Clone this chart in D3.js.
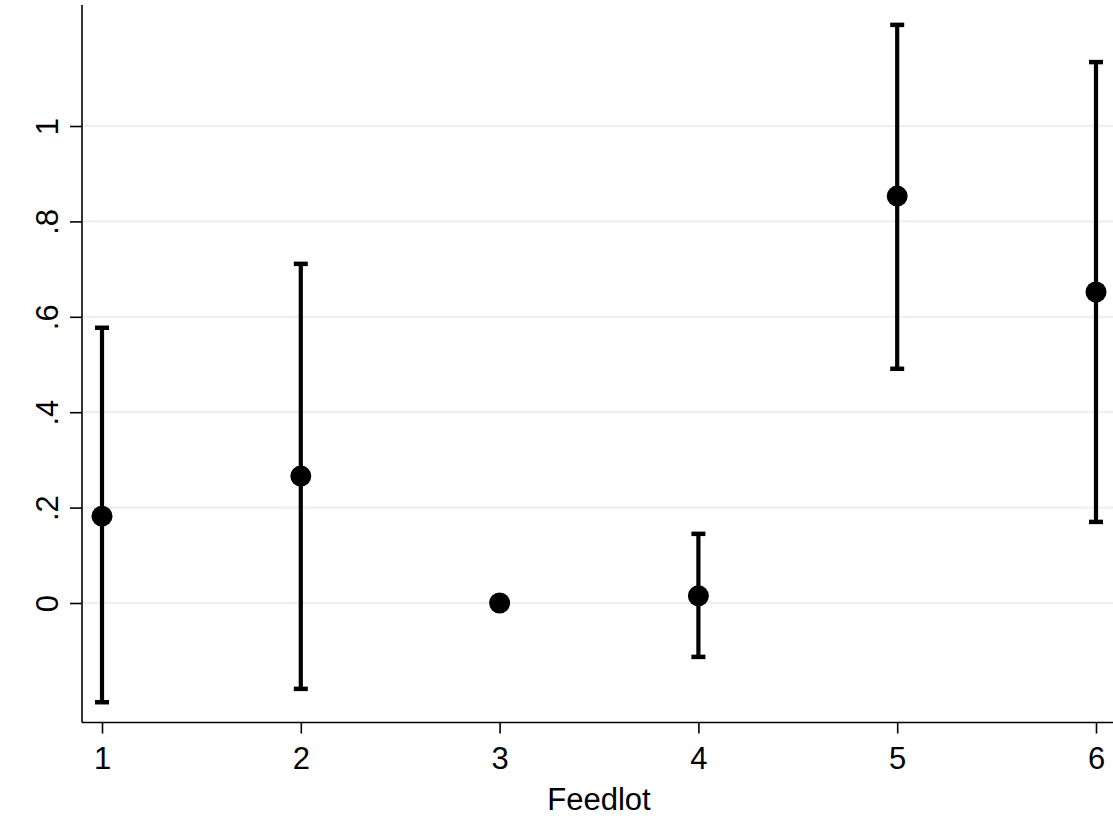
<!DOCTYPE html>
<html><head><meta charset="utf-8">
<script src="https://cdn.jsdelivr.net/npm/d3@7/dist/d3.min.js"></script>
<style>body{margin:0;background:#fff}svg{display:block}text{font-family:"Liberation Sans",Arial,sans-serif;fill:#000}</style>
</head><body><svg id="c" width="1113" height="819"></svg>
<script>
const feedlots = [1, 2, 3, 4, 5, 6];
const means = [0.182, 0.266, 0.0, 0.015, 0.853, 0.652];
const lower = [-0.208, -0.180, null, -0.113, 0.491, 0.170];
const upper = [0.577, 0.711, null, 0.145, 1.212, 1.134];
const yTicks = [0, 0.2, 0.4, 0.6, 0.8, 1];
const yTickLabels = ["0", ".2", ".4", ".6", ".8", "1"];
const xTicks = [1, 2, 3, 4, 5, 6];
const xTitle = "Feedlot";

const svg = d3.select("#c");
const x = d3.scaleLinear().domain([1, 6]).range([102, 1096]);
const y = d3.scaleLinear().domain([0, 1]).range([603, 126]);
const yMin = y.invert(722.5), yMax = y.invert(5);
const axisX = 82;
const FONT = '"Liberation Sans",Arial,sans-serif';

// gridlines
svg.append("g").selectAll("line").data(yTicks).join("line")
  .attr("x1", axisX + 1).attr("x2", 1113)
  .attr("y1", d => y(d)).attr("y2", d => y(d))
  .attr("stroke", "#eaf1f3").attr("stroke-width", 2.2);

// y axis
const yAxis = d3.axisLeft(y).tickValues(yTicks)
  .tickFormat((d, i) => yTickLabels[i]).tickSize(12).tickPadding(0);
const gy = svg.append("g").attr("transform", `translate(${axisX},0)`).call(yAxis);
gy.select(".domain").remove();
gy.append("line").attr("x1", 0).attr("x2", 0).attr("y1", y(yMax)).attr("y2", y(yMin))
  .attr("stroke", "#000").attr("stroke-width", 1.6);
gy.selectAll(".tick line").attr("stroke", "#000").attr("stroke-width", 1.6);
gy.selectAll(".tick text")
  .attr("x", 0).attr("y", 0).attr("dy", 0)
  .attr("transform", "translate(-24,0) rotate(-90)")
  .attr("text-anchor", "middle")
  .style("font-size", "31px").style("font-family", FONT);

// x axis
const xAxis = d3.axisBottom(x).tickValues(xTicks).tickFormat(d3.format("d")).tickSize(11).tickPadding(13);
const gx = svg.append("g").attr("transform", `translate(0,722.5)`).call(xAxis);
gx.select(".domain").remove();
gx.append("line").attr("x1", axisX).attr("x2", 1113).attr("y1", 0).attr("y2", 0)
  .attr("stroke", "#000").attr("stroke-width", 1.6);
gx.selectAll(".tick line").attr("stroke", "#000").attr("stroke-width", 1.6);
gx.selectAll(".tick text").style("font-size", "31px").style("font-family", FONT);

svg.append("text").attr("x", 599).attr("y", 810).attr("text-anchor", "middle")
  .style("font-size", "31px").style("font-family", FONT).text(xTitle);

// error bars
const data = feedlots.map((f, i) => ({f, m: means[i], lo: lower[i], hi: upper[i]}));
const eb = data.filter(d => d.lo !== null);
const g = svg.append("g");
g.selectAll("line.v").data(eb).join("line").attr("class", "v")
  .attr("x1", d => x(d.f)).attr("x2", d => x(d.f))
  .attr("y1", d => y(d.lo)).attr("y2", d => y(d.hi))
  .attr("stroke", "#000").attr("stroke-width", 4.2);
g.selectAll("line.cu").data(eb).join("line").attr("class", "cu")
  .attr("x1", d => x(d.f) - 7).attr("x2", d => x(d.f) + 7)
  .attr("y1", d => y(d.hi)).attr("y2", d => y(d.hi))
  .attr("stroke", "#000").attr("stroke-width", 4.5);
g.selectAll("line.cl").data(eb).join("line").attr("class", "cl")
  .attr("x1", d => x(d.f) - 7).attr("x2", d => x(d.f) + 7)
  .attr("y1", d => y(d.lo)).attr("y2", d => y(d.lo))
  .attr("stroke", "#000").attr("stroke-width", 4.5);
g.selectAll("circle").data(data).join("circle")
  .attr("cx", d => x(d.f)).attr("cy", d => y(d.m)).attr("r", 10.5).attr("fill", "#000");
</script></body></html>
